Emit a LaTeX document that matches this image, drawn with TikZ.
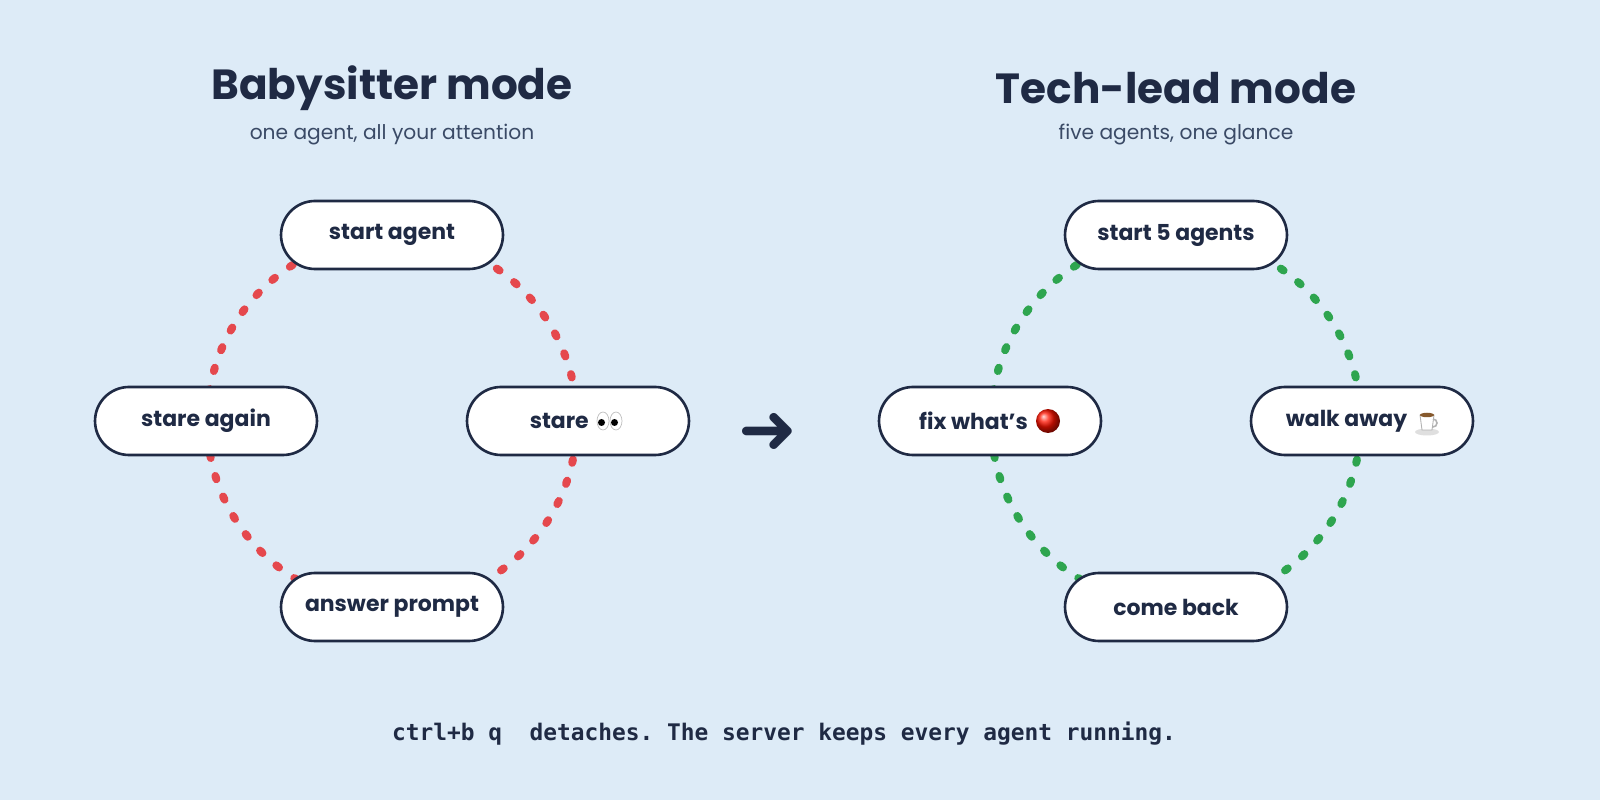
\documentclass[tikz,border=0pt]{standalone}
\usepackage{fontspec}
\setmainfont{Poppins}
\setmonofont{DejaVu Sans Mono}
\usetikzlibrary{calc}
\definecolor{bgblue}{HTML}{DDEBF7}
\definecolor{ink}{HTML}{1F2A44}
\definecolor{sub}{HTML}{3A4A66}
\definecolor{dotred}{HTML}{E5484D}
\definecolor{dotgreen}{HTML}{2EA54F}
\tikzset{
	pill/.style={rectangle, rounded corners=0.68cm, draw=ink, fill=white, line width=1.5pt, minimum width=4.44cm, minimum height=1.36cm, text=ink, font=\fontsize{12.5}{14}\selectfont\bfseries},
	title/.style={text=ink, font=\fontsize{24}{28}\selectfont\bfseries},
	subtitle/.style={text=sub, font=\fontsize{11.5}{13}\selectfont},
	loopdots/.style={line width=4.5pt, line cap=round, dash pattern=on 2pt off 10.5pt}
}

\begin{document}
\begin{tikzpicture}[x=0.02cm, y=-0.02cm]
	\useasboundingbox (0,0) rectangle (1600,800);
	\fill[bgblue] (0,0) rectangle (1600,800);
	% left loop
	\node[title] (bstitle) at (392,88) {Babysitter mode};
	\node[subtitle] (bssub) at (392,135) {one agent, all your attention};
	\draw[dotred, loopdots] (392,421) circle (3.7cm);
	\node[pill] (bsstart) at (392,235) {start agent};
	\node[pill] (bsstare) at (578,421) {stare\makebox[0.75cm]{}};
	\node[pill] (bsanswer) at (392,607) {answer prompt};
	\node[pill] (bsagain) at (206,421) {stare again};
	% eyes
	\foreach \dx in {25,38} {
		\draw[gray!50, fill=white, line width=0.4pt] ($(bsstare.center)+(\dx,0)$) ellipse (0.12cm and 0.18cm);
		\fill[black] ($(bsstare.center)+(\dx-1.5,1.5)$) circle (0.07cm);
	}
	% arrow between
	\node[text=ink, font=\fontsize{40}{40}\selectfont\bfseries] (switch) at (768,433) {\fontspec{DejaVu Sans}➜};
	% right loop
	\node[title] (tltitle) at (1176,88) {Tech-lead mode};
	\node[subtitle] (tlsub) at (1176,135) {five agents, one glance};
	\draw[dotgreen, loopdots] (1176,421) circle (3.7cm);
	\node[pill] (tlstart) at (1176,235) {start 5 agents};
	\node[pill] (tlwalk) at (1362,421) {walk away\makebox[0.62cm]{}};
	\node[pill] (tlback) at (1176,607) {come back};
	\node[pill] (tlfix) at (990,421) {fix what's\makebox[0.66cm]{}};
	% red circle
	\shade[ball color=red!85!orange] ($(tlfix.center)+(58,0)$) circle (0.24cm);
	% coffee cup
	\coordinate (cup) at ($(tlwalk.center)+(65,1)$);
	\fill[gray!25] ($(cup)+(0,10)$) ellipse (0.24cm and 0.07cm);
	\draw[gray!60, fill=white, line width=0.5pt] ($(cup)+(-7,-7)$) -- ($(cup)+(-5,8)$) -- ($(cup)+(5,8)$) -- ($(cup)+(7,-7)$) -- cycle;
	\draw[gray!60, line width=0.9pt] ($(cup)+(6,-3)$) arc (90:-90:0.08cm);
	\fill[brown!70!black] ($(cup)+(0,-7)$) ellipse (0.14cm and 0.045cm);
	% footer
	\node[text=ink, font=\fontsize{13}{15}\selectfont\ttfamily\bfseries] (footer) at (784,734) {ctrl+b q\ \ detaches. The server keeps every agent running.};
\end{tikzpicture}
\end{document}
